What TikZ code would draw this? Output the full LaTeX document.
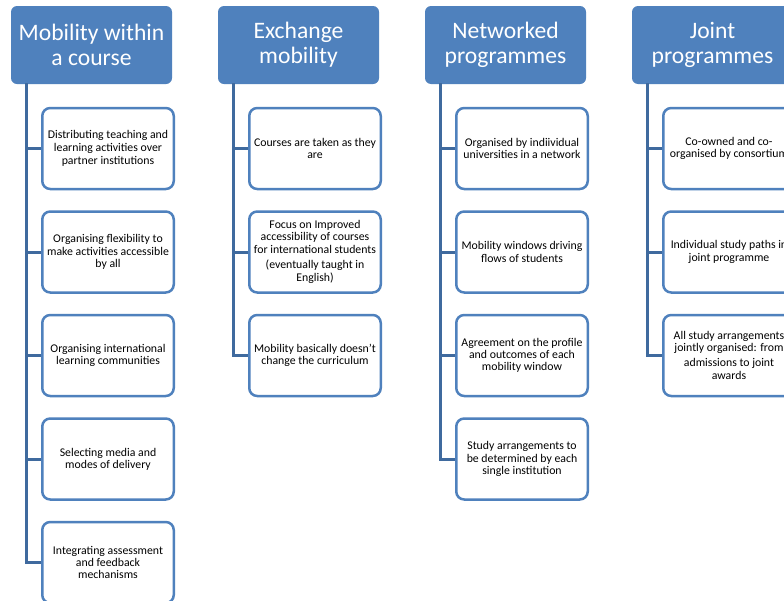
\documentclass[tikz,border=0pt]{standalone}
\usepackage{fontspec}
\setmainfont{Carlito}
\definecolor{hdr}{HTML}{4F81BD}
\definecolor{conn}{HTML}{3F6A9E}
\begin{document}
\begin{tikzpicture}[x=1pt,y=-1pt,
  hdrbox/.style={rectangle, rounded corners=6pt, fill=hdr, text=white,
    minimum width=161pt, minimum height=78pt, align=center, inner sep=0pt,
    font=\fontsize{23.6}{25}\selectfont},
  itembox/.style={rectangle, rounded corners=8pt, draw=hdr, line width=2.5pt,
    fill=white, minimum width=131.5pt, minimum height=81pt, align=center,
    inner sep=0pt, font=\fontsize{11.8}{12.3}\selectfont},
  connline/.style={draw=conn, line width=3pt}]
\useasboundingbox (0,0) rectangle (784,600);
\clip (0,0) rectangle (784,600);
\fill[white] (0,0) rectangle (784,600);

% headers
\node[hdrbox] (h1) at (91.5,45) {Mobility within\\a course};
\node[hdrbox] (h2) at (298.5,45) {Exchange\\mobility};
\node[hdrbox] (h3) at (505.5,45) {Networked\\programmes};
\node[hdrbox] (h4) at (712.5,45) {Joint\\programmes};

\coordinate (l1) at (26,83);
\coordinate (l2) at (233,83);
\coordinate (l3) at (440,83);
\coordinate (l4) at (647,83);

% column 1
\node[itembox] (a1) at (108,148.5) {Distributing teaching and\\learning activities over\\[1pt]partner institutions};
\node[itembox] (a2) at (108,252) {Organising flexibility to\\make activities accessible\\by all};
\node[itembox] (a3) at (108,355.5) {Organising international\\learning communities};
\node[itembox] (a4) at (108,459) {Selecting media and\\modes of delivery};
\node[itembox] (a5) at (108,562.5) {Integrating assessment\\and feedback\\mechanisms};

% column 2
\node[itembox] (b1) at (315,148.5) {Courses are taken as they\\are};
\node[itembox] (b2) at (315,252) {Focus on Improved\\accessibility of courses\\for international students\\[3pt](eventually taught in\\[1pt]English)};
\node[itembox] (b3) at (315,355.5) {Mobility basically doesn’t\\change the curriculum};

% column 3
\node[itembox] (c1) at (522,148.5) {Organised by indiividual\\universities in a network};
\node[itembox] (c2) at (522,252) {Mobility windows driving\\flows of students};
\node[itembox] (c3) at (522,355.5) {Agreement on the profile\\and outcomes of each\\mobility window};
\node[itembox] (c4) at (522,459) {Study arrangements to\\be determined by each\\single institution};

% column 4
\node[itembox] (d1) at (729,148.5) {Co-owned and co-\\organised by consortium};
\node[itembox] (d2) at (729,252) {Individual study paths in\\joint programme};
\node[itembox] (d3) at (729,355.5) {All study arrangements\\jointly organised: from\\[2pt]admissions to joint\\[1pt]awards};

% connectors
\foreach \n in {a1,a2,a3,a4,a5} \draw[connline] (l1) |- (\n.west);
\foreach \n in {b1,b2,b3} \draw[connline] (l2) |- (\n.west);
\foreach \n in {c1,c2,c3,c4} \draw[connline] (l3) |- (\n.west);
\foreach \n in {d1,d2,d3} \draw[connline] (l4) |- (\n.west);
\end{tikzpicture}
\end{document}
